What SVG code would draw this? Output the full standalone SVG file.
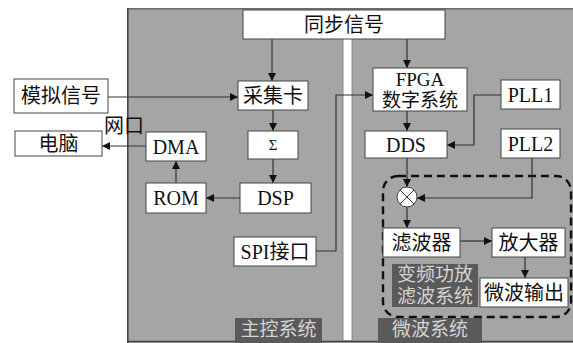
<svg xmlns="http://www.w3.org/2000/svg" width="573" height="343" viewBox="0 0 573 343">
<defs>
<marker id="ah" viewBox="0 0 10 10" refX="10" refY="5" markerWidth="8" markerHeight="8" markerUnits="userSpaceOnUse" orient="auto">
<path d="M0,0 L10,5 L0,10 z" fill="#111"/>
</marker>
<style>
.box{fill:#fff;stroke:#444;stroke-width:1}
.t{font-family:"Liberation Serif","Noto Sans CJK SC",serif;font-size:20px;fill:#111;text-anchor:middle;dominant-baseline:central}
.t2{font-size:19px}
.lbl{fill:#5a5a5a}
.lt{font-family:"Liberation Serif","Noto Sans CJK SC",sans-serif;font-size:19px;fill:#d4d4d4;text-anchor:middle;dominant-baseline:central}
.c{fill:none;stroke:#333;stroke-width:1.2}
.ca{fill:none;stroke:#333;stroke-width:1.2;marker-end:url(#ah)}
</style>
</defs>
<rect x="0" y="0" width="573" height="343" fill="#fff"/>
<g id="panels">
<rect x="127" y="8" width="446" height="336" fill="#a5a5a5"/>
<line x1="127" y1="8.8" x2="573" y2="8.8" stroke="#6a6a6a" stroke-width="1.6"/>
<line x1="127.8" y1="8" x2="127.8" y2="343" stroke="#444" stroke-width="1.6"/>
<line x1="127" y1="341.5" x2="573" y2="341.5" stroke="#444" stroke-width="1.6"/>
<rect x="343" y="9.6" width="9" height="331" fill="#fff" stroke="#777" stroke-width="0.8"/>
</g>
<g id="dashed-region">
<rect x="383" y="176" width="188" height="141" rx="15" ry="15" fill="none" stroke="#111" stroke-width="2.4" stroke-dasharray="8,5"/>
</g>
<g id="connectors">
<line class="ca" x1="272" y1="39" x2="272" y2="81"/>
<line class="ca" x1="407" y1="39" x2="407" y2="68"/>
<line class="ca" x1="108" y1="97" x2="238" y2="97"/>
<line class="ca" x1="273" y1="110" x2="273" y2="131"/>
<line class="ca" x1="273" y1="159" x2="273" y2="183"/>
<line class="ca" x1="240" y1="198" x2="206" y2="198"/>
<line class="ca" x1="176" y1="183" x2="176" y2="161"/>
<line class="ca" x1="146" y1="146" x2="102" y2="146"/>
<polyline class="ca" points="316,251 336,251 336,95 373,95"/>
<line class="ca" x1="407" y1="111" x2="407" y2="131"/>
<polyline class="ca" points="501,95 474,95 474,145 447,145"/>
<line class="ca" x1="407" y1="158" x2="407" y2="187"/>
<polyline class="ca" points="532,158 532,198 417,198"/>
<line class="ca" x1="407" y1="207" x2="407" y2="228"/>
<line class="ca" x1="460" y1="241" x2="492" y2="241"/>
<line class="ca" x1="525" y1="257" x2="525" y2="278"/>
</g>
<g id="sync"><rect class="box" x="243" y="10" width="202" height="29"/><text class="t" x="344" y="24.5">同步信号</text></g>
<g id="analog"><rect class="box" x="14" y="79" width="94" height="34"/><text class="t" x="61" y="96">模拟信号</text></g>
<g id="collect"><rect class="box" x="238" y="81" width="70" height="29"/><text class="t" x="273" y="95.5">采集卡</text></g>
<g id="pc"><rect class="box" x="15" y="131" width="87" height="25"/><text class="t" x="58.5" y="143.5">电脑</text></g>
<g id="netport"><text class="t" x="124" y="126">网口</text></g>
<g id="dma"><rect class="box" x="146" y="132" width="60" height="29"/><text class="t" x="176" y="146.5">DMA</text></g>
<g id="sigma"><rect class="box" x="248" y="131" width="50" height="28"/><text class="t" x="273" y="145" style="font-size:15px">Σ</text></g>
<g id="rom"><rect class="box" x="146" y="183" width="60" height="30"/><text class="t" x="176" y="198">ROM</text></g>
<g id="dsp"><rect class="box" x="240" y="183" width="71" height="30"/><text class="t" x="275.5" y="198">DSP</text></g>
<g id="spi"><rect class="box" x="234" y="237" width="82" height="29"/><text class="t" x="275" y="251.5">SPI接口</text></g>
<g id="fpga"><rect class="box" x="373" y="68" width="94" height="43"/><text class="t t2" x="420" y="79">FPGA</text><text class="t t2" x="420" y="100">数字系统</text></g>
<g id="pll1"><rect class="box" x="501" y="80" width="59" height="29"/><text class="t" x="530.5" y="94.5">PLL1</text></g>
<g id="dds"><rect class="box" x="365" y="131" width="82" height="27"/><text class="t" x="406" y="144.5">DDS</text></g>
<g id="pll2"><rect class="box" x="501" y="129" width="59" height="29"/><text class="t" x="530.5" y="143.5">PLL2</text></g>
<g id="mixer"><circle cx="407" cy="197" r="10" fill="#fff" stroke="#444" stroke-width="1"/><path d="M400,190 L414,204 M414,190 L400,204" stroke="#333" stroke-width="1"/></g>
<g id="filter"><rect class="box" x="383" y="228" width="77" height="29"/><text class="t" x="421.5" y="242.5">滤波器</text></g>
<g id="amp"><rect class="box" x="492" y="228" width="73" height="29"/><text class="t" x="528.5" y="242.5">放大器</text></g>
<g id="output"><rect class="box" x="480" y="278" width="88" height="29"/><text class="t" x="524" y="292.5">微波输出</text></g>
<g id="label-conv"><rect class="lbl" x="392" y="264" width="86" height="43"/><text class="lt" x="435" y="274.5">变频功放</text><text class="lt" x="435" y="296">滤波系统</text></g>
<g id="label-main"><rect class="lbl" x="235" y="318" width="87" height="25"/><text class="lt" x="278.5" y="329.5">主控系统</text></g>
<g id="label-mw"><rect class="lbl" x="378" y="318" width="104" height="25"/><text class="lt" x="430" y="329.5">微波系统</text></g>
</svg>
